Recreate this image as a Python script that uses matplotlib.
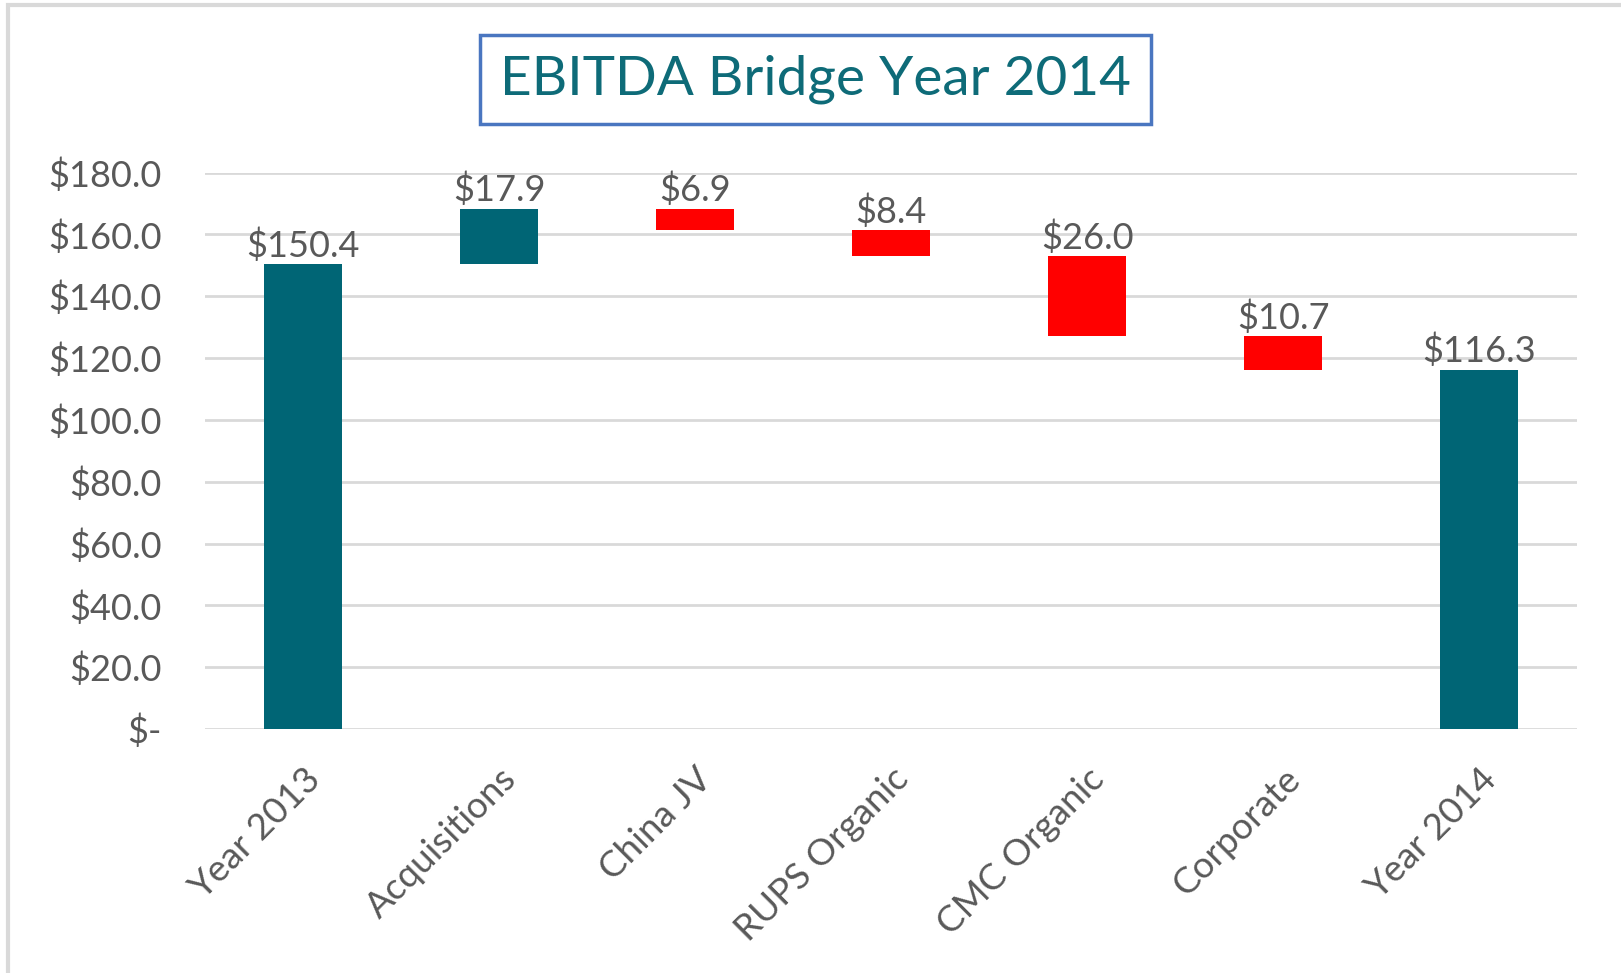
import numpy as np
import matplotlib
matplotlib.use("Agg")
import matplotlib.pyplot as plt
from matplotlib.patches import Rectangle

categories = ["Year 2013", "Acquisitions", "China JV", "RUPS Organic",
              "CMC Organic", "Corporate", "Year 2014"]
start_value = 150.4
changes = [17.9, -6.9, -8.4, -26.0, -10.7]
end_value = 116.3

teal = "#006575"
red = "#FF0000"
grey_text = "#595959"

plt.rcParams["font.family"] = ["Lato", "DejaVu Sans"]

fig = plt.figure(figsize=(16.21, 9.73), dpi=100)
ax = fig.add_axes([0.1265, 0.2508, 0.9729 - 0.1265, 0.8226 - 0.2508])

# bar bottoms / heights for the waterfall
bottoms = [0.0]
heights = [start_value]
colors = [teal]
labels = ["$%.1f" % start_value]
tops = [start_value]
level = start_value
for c in changes:
    new = level + c
    bottoms.append(min(level, new))
    heights.append(abs(c))
    colors.append(teal if c > 0 else red)
    labels.append("$%.1f" % abs(c))
    tops.append(max(level, new))
    level = new
bottoms.append(0.0)
heights.append(end_value)
colors.append(teal)
labels.append("$%.1f" % end_value)
tops.append(end_value)

x = np.arange(len(categories))
ax.bar(x, heights, bottom=bottoms, width=0.4, color=colors, zorder=3)

for xi, t, lab in zip(x, tops, labels):
    ax.annotate(lab, (xi, t), xytext=(0, 1), textcoords="offset points",
                ha="center", va="bottom", fontsize=26, color=grey_text, zorder=4)

ax.set_xlim(-0.5, len(categories) - 0.5)
ax.set_ylim(0, 180)
yt = np.arange(0, 181, 20)
ax.set_yticks(yt)
ax.set_yticklabels(["$-" if v == 0 else "$%.1f" % v for v in yt],
                   fontsize=26, color=grey_text)
ax.set_xticks(x)
ax.set_xticklabels(categories, rotation=45, ha="right", rotation_mode="anchor",
                   fontsize=26.5, color=grey_text)
ax.tick_params(axis="both", length=0)
ax.tick_params(axis="y", pad=31)
ax.tick_params(axis="x", pad=24)

ax.grid(axis="y", color="#D9D9D9", linewidth=2, zorder=0)
for s in ax.spines.values():
    s.set_visible(False)

# title with box
fig.text(0.503, 0.9188, "EBITDA Bridge Year 2014", ha="center", va="center",
         fontsize=39.5, color="#0E6B78",
         bbox=dict(boxstyle="square,pad=0.36", facecolor="white",
                   edgecolor="#4A76C0", linewidth=2.5))

# outer chart frame
fig.patches.append(Rectangle((8 / 1621, -0.1), 1.2, 1 - 5 / 973 + 0.1,
                             transform=fig.transFigure, fill=False,
                             edgecolor="#D9D9D9", linewidth=3))

fig.savefig("out.png", dpi=100)
